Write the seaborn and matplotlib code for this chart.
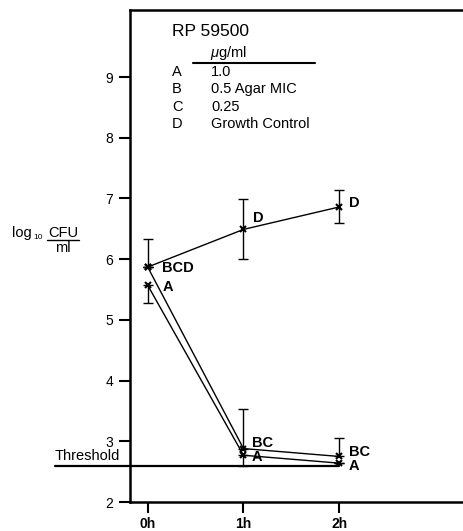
import pandas as pd
import seaborn as sns
import matplotlib.pyplot as plt
from matplotlib.lines import Line2D

times = ['0h', '1h', '2h']
time_pos = [0, 1, 2]

d_vals = [5.87, 6.49, 6.86]
bc_vals = [5.87, 2.88, 2.75]
a_vals = [5.57, 2.77, 2.64]

d_err_lo = [0.0, 0.48, 0.26]
d_err_hi = [0.46, 0.50, 0.28]
bc_err_hi = [0.0, 0.65, 0.31]
a_err_lo = [0.29, 0.17, 0.0]

threshold = 2.60

legend_keys = ['A', 'B', 'C', 'D']
legend_vals = ['1.0', '0.5 Agar MIC', '0.25', 'Growth Control']

y_ticks = [2, 3, 4, 5, 6, 7, 8, 9]

sns.set_style("ticks")
plt.rcParams['font.family'] = ['Liberation Sans', 'DejaVu Sans']
plt.rcParams['mathtext.fontset'] = 'custom'
plt.rcParams['mathtext.rm'] = 'Liberation Sans'
plt.rcParams['mathtext.it'] = 'Liberation Sans:italic'
plt.rcParams['text.color'] = 'black'
plt.rcParams['axes.edgecolor'] = 'black'
plt.rcParams['xtick.color'] = 'black'
plt.rcParams['ytick.color'] = 'black'

W, H = 464, 531
fig = plt.figure(figsize=(W / 100, H / 100), dpi=100)
ax = fig.add_axes([130 / W, 1 - 502 / H, 1 - 130 / W, (502 - 10) / H])


def fx(x):
    return x / W


def fy(y):
    return 1 - y / H


df = pd.DataFrame({
    'time': time_pos * 3,
    'value': d_vals + bc_vals + a_vals,
    'series': ['D'] * 3 + ['BC'] * 3 + ['A'] * 3,
})

sns.lineplot(data=df, x='time', y='value', units='series', estimator=None,
             color='black', linewidth=1.0, marker='x', markersize=5,
             markeredgewidth=1.5, markeredgecolor='black', ax=ax, legend=False)

ax.errorbar(time_pos, d_vals, yerr=[d_err_lo, d_err_hi], fmt='none',
            ecolor='black', elinewidth=1, capsize=3.5, capthick=1)
ax.errorbar(time_pos, bc_vals, yerr=[[0, 0, 0], bc_err_hi], fmt='none',
            ecolor='black', elinewidth=1, capsize=3.5, capthick=1)
ax.errorbar(time_pos, a_vals, yerr=[a_err_lo, [0, 0, 0]], fmt='none',
            ecolor='black', elinewidth=1, capsize=3.5, capthick=1)

# threshold line runs out past the axis to the label
ax.plot([-(147.7 - 55) / 95.8, 2.0], [threshold, threshold], color='black',
        linewidth=1.6, clip_on=False)
fig.text(fx(55), fy(460), 'Threshold', fontsize=10.5, ha='left', va='baseline')

# point labels
lab = dict(fontsize=10.5, fontweight='bold', va='center', ha='left')
ax.annotate('BCD', (0, d_vals[0]), xytext=(10, -1), textcoords='offset points', **lab)
ax.annotate('A', (0, a_vals[0]), xytext=(11, -1), textcoords='offset points', **lab)
ax.annotate('D', (1, d_vals[1]), xytext=(7, 8), textcoords='offset points', **lab)
ax.annotate('D', (2, d_vals[2]), xytext=(7, 3), textcoords='offset points', **lab)
ax.annotate('BC', (1, bc_vals[1]), xytext=(6, 4), textcoords='offset points', **lab)
ax.annotate('A', (1, a_vals[1]), xytext=(6, -1), textcoords='offset points', **lab)
ax.annotate('BC', (2, bc_vals[2]), xytext=(7, 3), textcoords='offset points', **lab)
ax.annotate('A', (2, a_vals[2]), xytext=(7, -2), textcoords='offset points', **lab)

ax.set_xlim(-(147.7 - 130) / 95.8, (464 - 147.7) / 95.8)
ax.set_ylim(2, 2 + (502 - 10) / 60.71)
ax.set_xticks(time_pos)
ax.set_xticklabels(times, fontsize=10, fontweight='semibold')
ax.set_yticks(y_ticks)
ax.set_yticklabels([str(t) for t in y_ticks], fontsize=10)
ax.tick_params(axis='y', direction='out', length=8, width=1.5, pad=4)
ax.tick_params(axis='x', direction='out', length=8, width=1.5, pad=3)
ax.set_xlabel('')
ax.set_ylabel('')

ax.spines['right'].set_visible(False)
for s in ['left', 'top', 'bottom']:
    ax.spines[s].set_linewidth(1.8)

# y axis label: log10 CFU / ml
fig.text(fx(12), fy(237), 'log', fontsize=10.5, va='baseline')
fig.text(fx(33.5), fy(239), '10', fontsize=6, va='baseline')
fig.text(fx(63), fy(237), 'CFU', fontsize=10.5, va='baseline', ha='center')
fig.add_artist(Line2D([fx(47), fx(79)], [fy(240), fy(240)], color='black', linewidth=1))
fig.text(fx(63), fy(252), 'ml', fontsize=10.5, va='baseline', ha='center')

# legend block
fig.text(fx(172), fy(36), 'RP 59500', fontsize=12.5, va='baseline')
fig.text(fx(210), fy(57), r'$\mathit{\mu}$g/ml', fontsize=10.5, va='baseline')
fig.add_artist(Line2D([fx(193), fx(315)], [fy(62.5), fy(62.5)], color='black', linewidth=1.5))
for i, (k, v) in enumerate(zip(legend_keys, legend_vals)):
    yb = 76 + i * 17.4
    fig.text(fx(172), fy(yb), k, fontsize=10.5, va='baseline')
    fig.text(fx(211), fy(yb), v, fontsize=10.5, va='baseline')

fig.savefig('out.png', dpi=100)
